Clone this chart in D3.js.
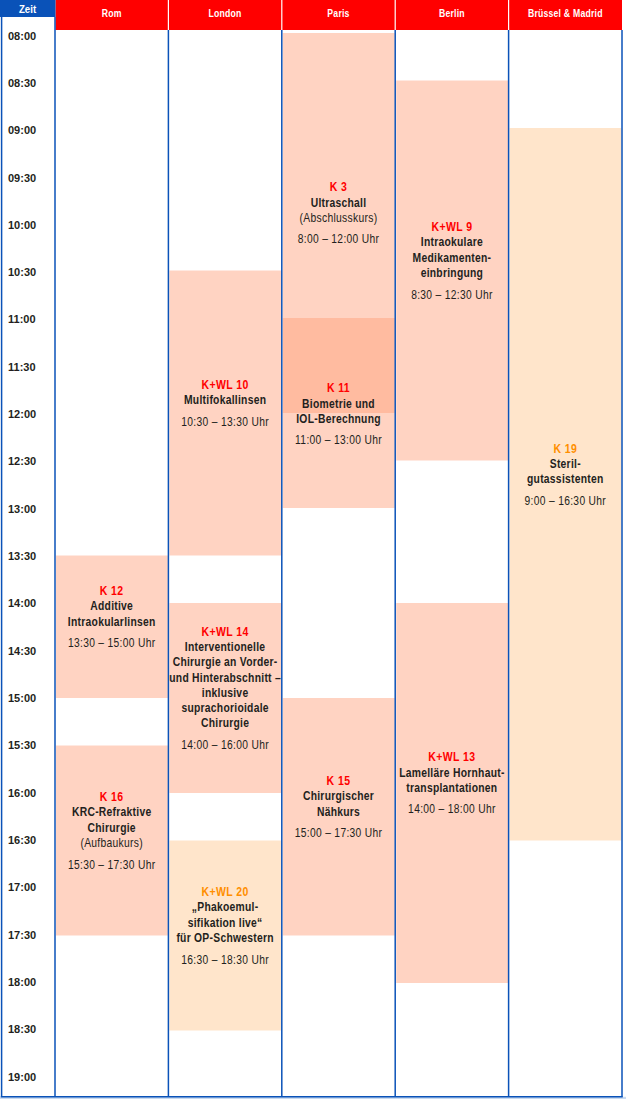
<!DOCTYPE html>
<html><head><meta charset="utf-8">
<script src="https://cdn.jsdelivr.net/npm/d3@7"></script>
<style>
html,body{margin:0;padding:0;background:#fff;}
svg{display:block;}
</style></head>
<body>
<script>
// ---------- DATA ----------
const cities = ["Rom", "London", "Paris", "Berlin", "Brüssel & Madrid"];
const timeTicks = ["08:00","08:30","09:00","09:30","10:00","10:30","11:00","11:30","12:00","12:30","13:00","13:30","14:00","14:30","15:00","15:30","16:00","16:30","17:00","17:30","18:00","18:30","19:00"];
const courseIds   = ["K 3", "K+WL 9", "K 19", "K+WL 10", "K 11", "K 12", "K+WL 14", "K+WL 13", "K 15", "K 16", "K+WL 20"];
const courseCity  = ["Paris", "Berlin", "Brüssel & Madrid", "London", "Paris", "Rom", "London", "Berlin", "Paris", "Rom", "London"];
const courseStart = [8, 8.5, 9, 10.5, 11, 13.5, 14, 14, 15, 15.5, 16.5];
const courseEnd   = [12, 12.5, 16.5, 13.5, 13, 15, 16, 18, 17.5, 17.5, 18.5];
const courseTrack = ["arzt", "arzt", "op", "arzt", "arzt", "arzt", "arzt", "arzt", "arzt", "arzt", "op"];
const courseLines = [
  ["Ultraschall", "(Abschlusskurs)"],
  ["Intraokulare", "Medikamenten-", "einbringung"],
  ["Steril-", "gutassistenten"],
  ["Multifokallinsen"],
  ["Biometrie und", "IOL-Berechnung"],
  ["Additive", "Intraokularlinsen"],
  ["Interventionelle", "Chirurgie an Vorder-", "und Hinterabschnitt –", "inklusive", "suprachorioidale", "Chirurgie"],
  ["Lamelläre Hornhaut-", "transplantationen"],
  ["Chirurgischer", "Nähkurs"],
  ["KRC-Refraktive", "Chirurgie", "(Aufbaukurs)"],
  ["„Phakoemul-", "sifikation live“", "für OP-Schwestern"]
];

// ---------- LAYOUT ----------
const W = 626, H = 1099;
const BLUE = "#0A52B8", RED = "#FF0000", TXT = "#231F20";
const FONT = "'Liberation Sans',Arial,sans-serif";
const NX = 0.82; // horizontal condensation to imitate a narrow face
const bodyBottom = 1096.8;

const svg = d3.select("body").append("svg").attr("width", W).attr("height", H);

const x = d3.scaleBand().domain(cities).range([55, 622]).padding(0);
const y = d3.scaleLinear().domain([8, 19]).range([33, 1078]);
const yLabel = d3.scaleLinear().domain([8, 19]).range([35.6, 1076.6]);
const toHours = s => { const [h, m] = s.split(":").map(Number); return h + m / 60; };
const fmt = t => { const h = Math.floor(t), m = Math.round((t - h) * 60); return h + ":" + String(m).padStart(2, "0"); };

const courses = courseIds.map((id, i) => ({
  id, city: courseCity[i], start: courseStart[i], end: courseEnd[i],
  track: courseTrack[i], lines: courseLines[i]
}));

// background strip under bottom rule
svg.append("rect").attr("x", 0).attr("y", bodyBottom).attr("width", W).attr("height", H - bodyBottom).attr("fill", "#C9DAF0");

// course blocks
const fillFor = { arzt: "#FF9E78", op: "#FFC282" };
const opFor = { arzt: 0.45, op: 0.42 };
svg.append("g").selectAll("rect").data(courses).join("rect")
  .attr("x", d => x(d.city) + 1)
  .attr("width", x.bandwidth() - 1.5)
  .attr("y", d => y(d.start))
  .attr("height", d => y(d.end) - y(d.start))
  .attr("fill", d => fillFor[d.track])
  .attr("fill-opacity", d => opFor[d.track]);

// header
svg.append("rect").attr("x", 55.5).attr("y", 0).attr("width", 622 - 55.5).attr("height", 30).attr("fill", RED);
svg.append("rect").attr("x", 0).attr("y", 0).attr("width", 55.5).attr("height", 17).attr("fill", BLUE);
svg.append("g").selectAll("line").data(cities.slice(1)).join("line")
  .attr("x1", d => x(d)).attr("x2", d => x(d)).attr("y1", 0).attr("y2", 30)
  .attr("stroke", "#fff").attr("stroke-width", 1.2);
svg.append("g").selectAll("text").data(cities).join("text")
  .attr("transform", d => `translate(${x(d) + x.bandwidth() / 2},17.3) scale(${NX},1)`)
  .attr("text-anchor", "middle").attr("fill", "#fff")
  .attr("font-family", FONT).attr("font-weight", "bold").attr("font-size", 10.6)
  .attr("letter-spacing", 0.25)
  .text(d => d);
svg.append("text").attr("transform", `translate(27.5,13.3) scale(${NX},1)`).attr("text-anchor", "middle")
  .attr("fill", "#fff").attr("font-family", FONT).attr("font-weight", "bold").attr("font-size", 11.8)
  .text("Zeit");

// vertical rules
const vx = [1.6].concat(cities.map(c => x(c))).concat([x.range()[1]]);
svg.append("g").selectAll("line").data(vx).join("line")
  .attr("x1", d => d).attr("x2", d => d)
  .attr("y1", (d, i) => i <= 1 ? 17 : 30).attr("y2", bodyBottom)
  .attr("stroke", BLUE).attr("stroke-width", 1.5);
svg.append("line").attr("x1", 0.8).attr("x2", 622.7).attr("y1", bodyBottom).attr("y2", bodyBottom)
  .attr("stroke", BLUE).attr("stroke-width", 1.6);

// time labels
svg.append("g").selectAll("text").data(timeTicks).join("text")
  .attr("x", 8).attr("y", d => yLabel(toHours(d))).attr("dy", "0.36em")
  .attr("fill", TXT).attr("font-family", FONT).attr("font-weight", "bold").attr("font-size", 11)
  .text(d => d);

// course labels
const capH = 8.8, lineStep = 15.3, timeGap = 21.6;
const labelNudge = { "K 11": 11 };
const lg = svg.append("g").selectAll("g").data(courses).join("g")
  .attr("transform", d => {
    const n = d.lines.length;
    const hgt = capH + lineStep * n + timeGap;
    const c = (y(d.start) + y(d.end)) / 2 - 10 + (labelNudge[d.id] || 0);
    return `translate(${x(d.city) + x.bandwidth() / 2},${c - hgt / 2 + capH}) scale(${NX},1)`;
  });
lg.append("text").attr("text-anchor", "middle").attr("y", 0)
  .attr("fill", d => d.track === "op" ? "#FF8F00" : RED)
  .attr("font-family", FONT).attr("font-weight", "bold").attr("font-size", 12.8)
  .attr("letter-spacing", 0.5)
  .text(d => d.id);
lg.each(function(d) {
  const g = d3.select(this);
  d.lines.forEach((ln, j) => {
    const reg = ln.startsWith("(");
    g.append("text").attr("text-anchor", "middle").attr("y", lineStep * (j + 1))
      .attr("fill", TXT).attr("font-family", FONT)
      .attr("font-weight", reg ? "normal" : "bold")
      .attr("font-size", 12.6).attr("letter-spacing", reg ? 0.35 : 0.32)
      .text(ln);
  });
  g.append("text").attr("text-anchor", "middle").attr("y", lineStep * d.lines.length + timeGap)
    .attr("fill", TXT).attr("font-family", FONT).attr("font-size", 12.5).attr("letter-spacing", 0.4)
    .text(fmt(d.start) + " – " + fmt(d.end) + " Uhr");
});
</script>
</body></html>
